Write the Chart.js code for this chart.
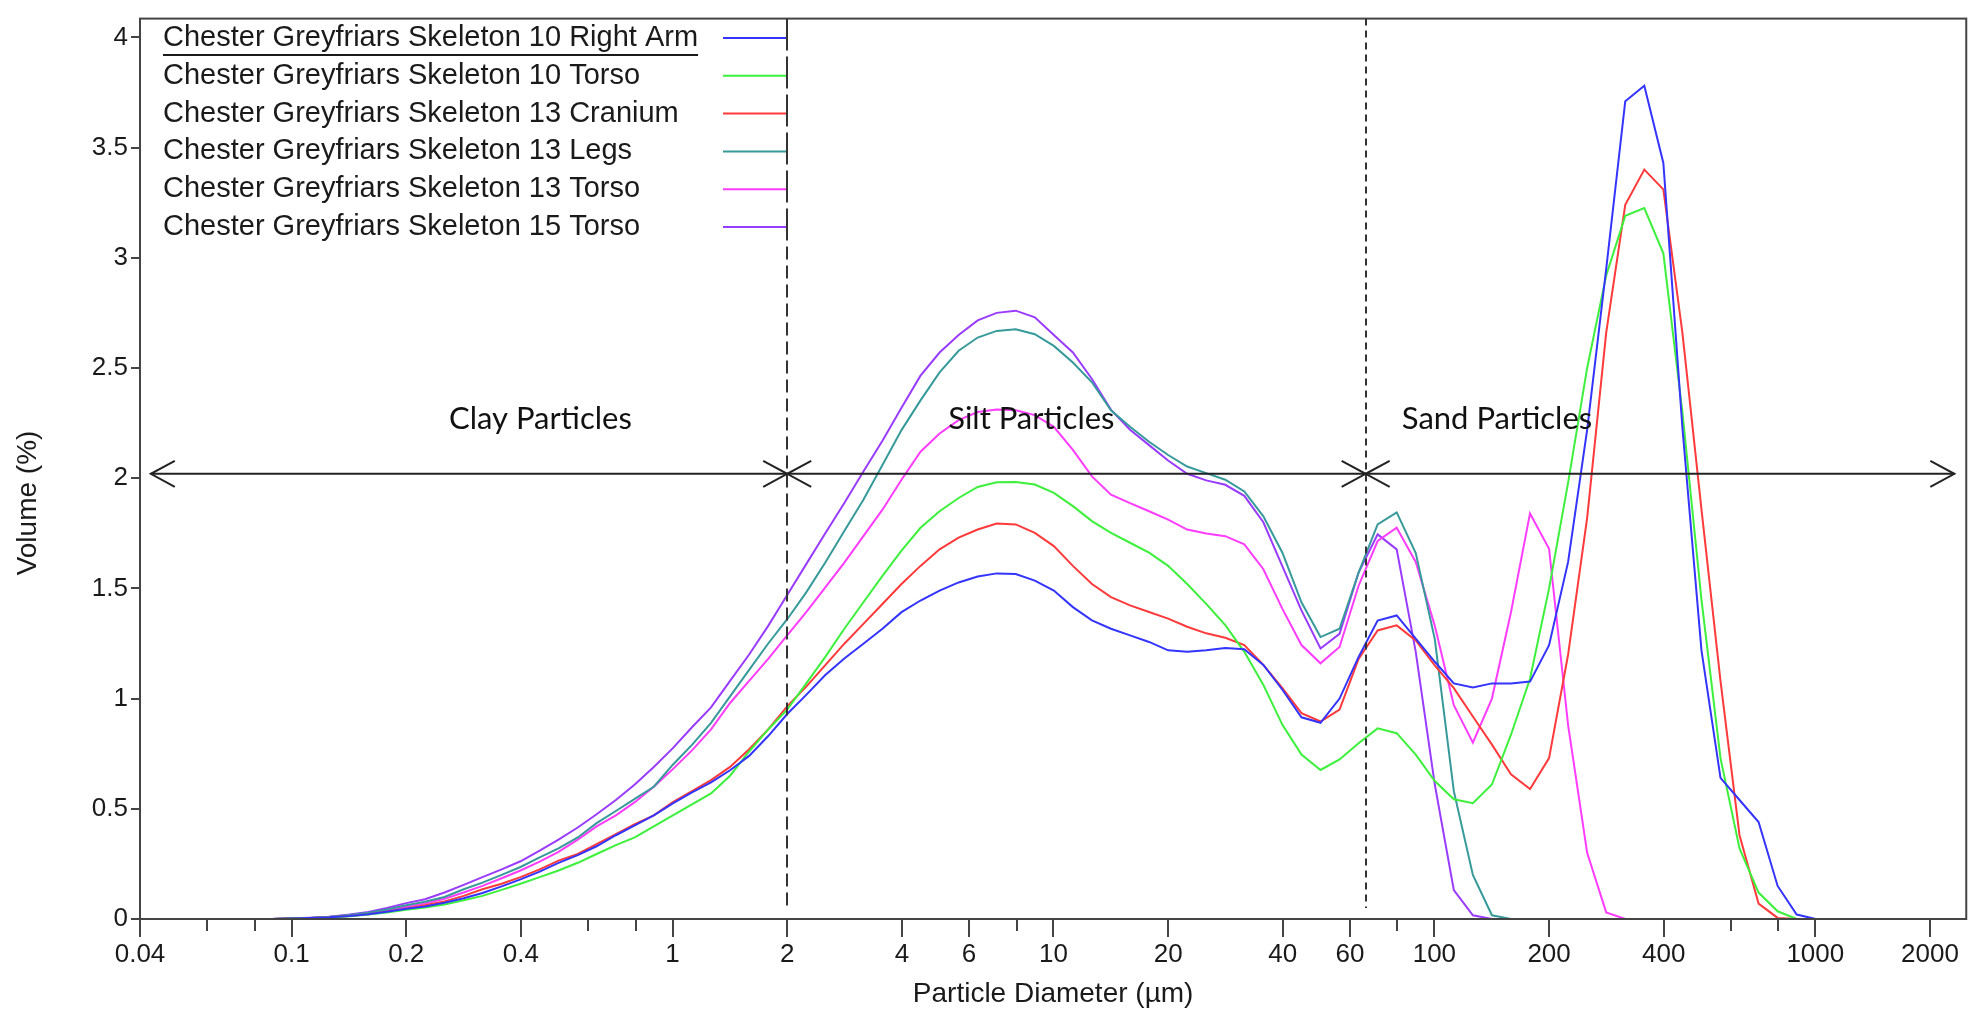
<!DOCTYPE html>
<html>
<head>
<meta charset="utf-8">
<title>Chester Greyfriars particle size distribution</title>
<script src="https://cdn.jsdelivr.net/npm/chart.js@4.4.1/dist/chart.umd.min.js"></script>
<style>
    html, body { margin: 0; padding: 0; background: #ffffff; }
    #wrap { position: relative; width: 1971px; height: 1014px; }
</style>
</head>
<body>
<div id="wrap"><canvas id="psdChart"></canvas></div>
<script>
// particle size classes (µm)
const sizes = [
    0.089, 0.1, 0.112, 0.126, 0.142, 0.159, 0.178, 0.2, 0.224, 0.252,
    0.283, 0.317, 0.356, 0.399, 0.448, 0.502, 0.564, 0.632, 0.71, 0.796,
    0.893, 1.002, 1.125, 1.262, 1.416, 1.589, 1.783, 2, 2.244, 2.518,
    2.825, 3.17, 3.557, 3.991, 4.477, 5.024, 5.637, 6.325, 7.096, 7.962,
    8.934, 10.024, 11.247, 12.619, 14.159, 15.887, 17.825, 20, 22.44, 25.179,
    28.251, 31.698, 35.566, 39.905, 44.774, 50.238, 56.368, 63.246, 70.963, 79.621,
    89.337, 100.237, 112.468, 126.191, 141.589, 158.866, 178.25, 200, 224.404, 251.785,
    282.508, 316.979, 355.656, 399.052, 447.744, 502.377, 563.677, 632.456, 709.627, 796.214,
    893.367, 1002.374
];

// volume (%)
const sk10RightArm = [
    0, 0.002, 0.005, 0.008, 0.014, 0.022, 0.033, 0.046, 0.057, 0.074,
    0.094, 0.118, 0.148, 0.18, 0.215, 0.255, 0.29, 0.33, 0.38, 0.425,
    0.47, 0.525, 0.575, 0.62, 0.675, 0.74, 0.83, 0.93, 1.017, 1.107,
    1.182, 1.249, 1.317, 1.392, 1.445, 1.49, 1.527, 1.554, 1.568, 1.565,
    1.535, 1.49, 1.415, 1.355, 1.317, 1.287, 1.257, 1.219, 1.212, 1.219,
    1.23, 1.224, 1.153, 1.04, 0.915, 0.89, 1.0, 1.189, 1.354, 1.377,
    1.272, 1.167, 1.069, 1.05, 1.069, 1.069, 1.077, 1.242, 1.62, 2.22,
    2.95, 3.71, 3.78, 3.43, 2.23, 1.22, 0.64, 0.54, 0.44, 0.15,
    0.02, 0
];
const sk10Torso = [
    0, 0.002, 0.004, 0.007, 0.012, 0.02, 0.03, 0.042, 0.052, 0.066,
    0.085, 0.105, 0.132, 0.16, 0.19, 0.22, 0.255, 0.295, 0.335, 0.37,
    0.42, 0.47, 0.52, 0.57, 0.65, 0.76, 0.86, 0.95, 1.069, 1.189,
    1.317, 1.437, 1.557, 1.671, 1.775, 1.85, 1.91, 1.96, 1.981, 1.983,
    1.971, 1.933, 1.873, 1.805, 1.752, 1.707, 1.662, 1.602, 1.52, 1.43,
    1.333, 1.212, 1.062, 0.881, 0.746, 0.676, 0.724, 0.797, 0.865, 0.843,
    0.746, 0.626, 0.543, 0.525, 0.61, 0.836, 1.09, 1.5, 1.98, 2.5,
    2.92, 3.19, 3.225, 3.02, 2.3, 1.45, 0.73, 0.32, 0.12, 0.035,
    0, null
];
const sk13Cranium = [
    0, 0.002, 0.005, 0.008, 0.014, 0.022, 0.033, 0.048, 0.062, 0.08,
    0.105, 0.135, 0.16, 0.19, 0.225, 0.265, 0.295, 0.34, 0.385, 0.43,
    0.47, 0.53, 0.58, 0.63, 0.69, 0.77, 0.86, 0.965, 1.054, 1.152,
    1.249, 1.339, 1.429, 1.52, 1.602, 1.677, 1.73, 1.767, 1.794, 1.79,
    1.752, 1.692, 1.602, 1.52, 1.46, 1.423, 1.393, 1.363, 1.326, 1.296,
    1.276, 1.243, 1.153, 1.047, 0.934, 0.896, 0.95, 1.18, 1.309, 1.332,
    1.264, 1.151, 1.047, 0.919, 0.791, 0.656, 0.59, 0.73, 1.2, 1.82,
    2.66, 3.24, 3.4, 3.31, 2.66, 1.86, 1.08, 0.38, 0.07, 0.005,
    0, null
];
const sk13Legs = [
    0, 0.003, 0.005, 0.01, 0.018, 0.028, 0.043, 0.062, 0.078, 0.1,
    0.135, 0.165, 0.2, 0.236, 0.28, 0.32, 0.37, 0.435, 0.49, 0.545,
    0.6, 0.7, 0.79, 0.89, 1.01, 1.13, 1.25, 1.36, 1.482, 1.617,
    1.76, 1.902, 2.06, 2.218, 2.353, 2.48, 2.578, 2.638, 2.668, 2.676,
    2.653, 2.6, 2.525, 2.435, 2.308, 2.233, 2.165, 2.105, 2.053, 2.023,
    1.993, 1.94, 1.827, 1.662, 1.437, 1.279, 1.317, 1.572, 1.79, 1.845,
    1.66, 1.27, 0.58, 0.2, 0.017, 0, null, null, null, null,
    null, null, null, null, null, null, null, null, null, null,
    null, null
];
const sk13Torso = [
    0, 0.003, 0.005, 0.01, 0.017, 0.026, 0.04, 0.056, 0.07, 0.092,
    0.12, 0.15, 0.185, 0.22, 0.26, 0.305, 0.36, 0.42, 0.47, 0.53,
    0.6, 0.68, 0.765, 0.86, 0.98, 1.08, 1.18, 1.287, 1.392, 1.505,
    1.617, 1.737, 1.857, 1.993, 2.12, 2.203, 2.263, 2.3, 2.311, 2.308,
    2.286, 2.233, 2.128, 2.008, 1.925, 1.887, 1.85, 1.812, 1.767, 1.749,
    1.737, 1.7, 1.587, 1.407, 1.243, 1.16, 1.234, 1.512, 1.715, 1.775,
    1.62, 1.33, 0.97, 0.8, 1.0, 1.392, 1.84, 1.68, 0.88, 0.3,
    0.03, 0, null, null, null, null, null, null, null, null,
    null, null
];
const sk15Torso = [
    0, 0.003, 0.006, 0.01, 0.02, 0.032, 0.05, 0.072, 0.09, 0.12,
    0.155, 0.19, 0.225, 0.262, 0.31, 0.36, 0.415, 0.475, 0.54, 0.61,
    0.69, 0.775, 0.87, 0.96, 1.08, 1.2, 1.33, 1.47, 1.61, 1.75,
    1.887, 2.03, 2.17, 2.32, 2.465, 2.57, 2.65, 2.716, 2.75, 2.76,
    2.73, 2.65, 2.57, 2.45, 2.31, 2.22, 2.15, 2.08, 2.02, 1.99,
    1.97, 1.92, 1.8, 1.6, 1.4, 1.227, 1.294, 1.572, 1.745, 1.677,
    1.212, 0.61, 0.131, 0.017, 0, null, null, null, null, null,
    null, null, null, null, null, null, null, null, null, null,
    null, null
];

const seriesNames = [
    "Chester Greyfriars Skeleton 10 Right Arm",
    "Chester Greyfriars Skeleton 10 Torso",
    "Chester Greyfriars Skeleton 13 Cranium",
    "Chester Greyfriars Skeleton 13 Legs",
    "Chester Greyfriars Skeleton 13 Torso",
    "Chester Greyfriars Skeleton 15 Torso"
];
const seriesValues = [sk10RightArm, sk10Torso, sk13Cranium, sk13Legs, sk13Torso, sk15Torso];
const seriesColors = ["#3434ff", "#3cf03c", "#ff3a3a", "#379a9a", "#ff3cff", "#9a3cff"];

// x axis ticks
const xTickValues = [0.04, 0.06, 0.08, 0.1, 0.2, 0.4, 0.6, 0.8, 1, 2, 4, 6, 8, 10, 20, 40, 60, 80,
    100, 200, 400, 600, 800, 1000, 2000];
const xTickLabels = [0.04, 0.1, 0.2, 0.4, 1, 2, 4, 6, 10, 20, 40, 60, 100, 200, 400, 1000, 2000];

// annotation: size class boundaries and labels
const classBoundaries = [0.0427, 2, 66, 2317];
const classDividers = [2, 66];
const classNames = ["Clay Particles", "Silt Particles", "Sand Particles"];
const classLabelX = [0.45, 8.75, 146];
const classLabelY = 2.27;
const classArrowY = 2.02;

const ARIAL = '"Liberation Sans", Arial, sans-serif';

function arrowHead(ctx, x, y, dir) {
    ctx.beginPath();
    ctx.moveTo(x + dir * 24, y - 13);
    ctx.lineTo(x, y);
    ctx.lineTo(x + dir * 24, y + 13);
    ctx.stroke();
}

const overlayPlugin = {
    id: "overlay",
    afterDraw(chart) {
        const ctx = chart.ctx;
        const area = chart.chartArea;
        const xs = chart.scales.x;
        const ys = chart.scales.y;

        ctx.save();

        // plot frame
        ctx.strokeStyle = "#444444";
        ctx.lineWidth = 2;
        ctx.strokeRect(area.left, area.top, area.right - area.left, area.bottom - area.top);

        // x tick marks (long for labelled ones)
        xTickValues.forEach(v => {
            const px = Math.round(xs.getPixelForValue(v));
            const len = xTickLabels.includes(v) ? 18 : 12;
            ctx.beginPath();
            ctx.moveTo(px, area.bottom);
            ctx.lineTo(px, area.bottom + len);
            ctx.stroke();
        });

        // dashed class dividers
        ctx.strokeStyle = "#333333";
        ctx.lineWidth = 2;
        classDividers.forEach((v, i) => {
            const px = Math.round(xs.getPixelForValue(v));
            ctx.setLineDash(i === 0 ? [13, 6] : [7, 5]);
            ctx.beginPath();
            ctx.moveTo(px, area.top);
            ctx.lineTo(px, area.bottom - 11);
            ctx.stroke();
        });
        ctx.setLineDash([]);

        // double arrows
        const ay = ys.getPixelForValue(classArrowY);
        ctx.strokeStyle = "#222222";
        ctx.lineWidth = 2;
        for (let i = 0; i < classNames.length; i++) {
            const x1 = xs.getPixelForValue(classBoundaries[i]);
            const x2 = xs.getPixelForValue(classBoundaries[i + 1]);
            ctx.beginPath();
            ctx.moveTo(x1, ay);
            ctx.lineTo(x2, ay);
            ctx.stroke();
            arrowHead(ctx, x1, ay, 1);
            arrowHead(ctx, x2, ay, -1);
        }

        // class labels
        ctx.fillStyle = "#111111";
        ctx.font = '31px Lato, "Open Sans", sans-serif';
        ctx.textAlign = "center";
        ctx.textBaseline = "middle";
        classNames.forEach((name, i) => {
            ctx.fillText(name, xs.getPixelForValue(classLabelX[i]), ys.getPixelForValue(classLabelY));
        });

        // legend: name, then a line sample
        ctx.font = "29px " + ARIAL;
        ctx.textAlign = "left";
        chart.data.datasets.forEach((ds, i) => {
            const y = 38 + i * 37.8;
            ctx.fillStyle = "#1a1a1a";
            ctx.fillText(ds.label, 163, y);
            if (i === 0) {
                const w = ctx.measureText(ds.label).width;
                ctx.fillRect(163, y + 16, w, 2);
            }
            ctx.strokeStyle = ds.borderColor;
            ctx.lineWidth = 2;
            ctx.beginPath();
            ctx.moveTo(723, y);
            ctx.lineTo(786, y);
            ctx.stroke();
            ctx.strokeStyle = "#333333";
            ctx.beginPath();
            ctx.moveTo(787, y - 9);
            ctx.lineTo(787, y + 5);
            ctx.stroke();
        });

        // y axis title
        ctx.save();
        ctx.translate(28, 503);
        ctx.rotate(-Math.PI / 2);
        ctx.textAlign = "center";
        ctx.fillStyle = "#1a1a1a";
        ctx.font = "28px " + ARIAL;
        ctx.fillText("Volume (%)", 0, 0);
        ctx.restore();

        ctx.restore();
    }
};

const datasets = seriesNames.map((name, i) => ({
    label: name,
    data: sizes.map((s, j) => ({ x: s, y: seriesValues[i][j] })),
    borderColor: seriesColors[i],
    backgroundColor: seriesColors[i],
    borderWidth: 2,
    pointRadius: 0,
    tension: 0,
    fill: false
}));

const ctx = document.getElementById("psdChart").getContext("2d");

new Chart(ctx, {
    type: "line",
    data: { datasets: datasets },
    options: {
        responsive: true,
        maintainAspectRatio: false,
        devicePixelRatio: 1,
        animation: false,
        layout: { padding: { top: 12, right: 4, left: 0, bottom: 0 } },
        plugins: {
            legend: { display: false },
            tooltip: { enabled: false }
        },
        scales: {
            x: {
                type: "logarithmic",
                min: 0.04,
                max: 2490,
                afterFit: scale => { scale.height = 95; },
                afterBuildTicks: scale => {
                    scale.ticks = xTickValues.map(v => ({ value: v }));
                },
                grid: { display: false },
                border: { display: false },
                ticks: {
                    autoSkip: false,
                    maxRotation: 0,
                    minRotation: 0,
                    padding: 12,
                    color: "#1a1a1a",
                    font: { family: ARIAL, size: 26 },
                    callback: value => (xTickLabels.includes(value) ? String(value) : "")
                },
                title: {
                    display: true,
                    text: "Particle Diameter (µm)",
                    color: "#1a1a1a",
                    font: { family: ARIAL, size: 28 },
                    padding: { top: 0, bottom: 3 }
                }
            },
            y: {
                min: 0,
                max: 4.085,
                afterFit: scale => { scale.width = 140; },
                grid: {
                    drawOnChartArea: false,
                    tickLength: 9,
                    color: "#444444",
                    lineWidth: 2
                },
                border: { display: false },
                ticks: {
                    stepSize: 0.5,
                    includeBounds: false,
                    padding: 3,
                    color: "#1a1a1a",
                    font: { family: ARIAL, size: 26 },
                    callback: value => String(Number(value.toFixed(2)))
                }
            }
        }
    },
    plugins: [overlayPlugin]
});
</script>
</body>
</html>
